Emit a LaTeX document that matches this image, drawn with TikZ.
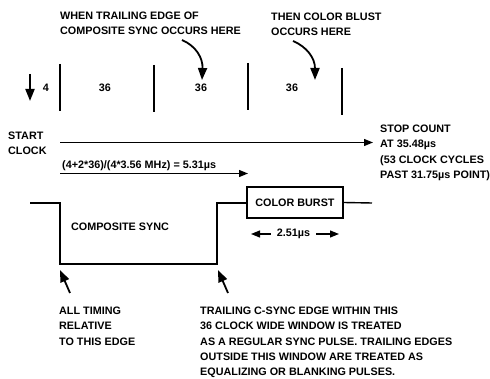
\documentclass[tikz,border=0pt]{standalone}
\usepackage{fontspec}
\setmainfont{Liberation Sans}
\usetikzlibrary{arrows.meta}

\begin{document}
\begin{tikzpicture}[
   x=1pt, y=-1pt,
   txt/.style={anchor=north west, align=left, inner sep=0pt, font=\bfseries\fontsize{10.8}{15.2}\selectfont},
   num/.style={inner sep=0pt, font=\bfseries\fontsize{10.8}{12}\selectfont},
   bar/.style={line width=1.7pt},
   wave/.style={line width=1.4pt},
   ar/.style={-{Triangle[length=9pt,width=7pt]}, line width=1.2pt},
   bigar/.style={-{Triangle[length=12pt,width=9pt]}, line width=1.8pt}
]
\useasboundingbox (0,0) rectangle (490,379);

% notes on top
\node[txt] (when) at (60,12) {WHEN TRAILING EDGE OF\\COMPOSITE SYNC OCCURS HERE};
\node[txt] (then) at (271,13) {THEN COLOR BLUST\\OCCURS HERE};
\coordinate (w0) at (182,40); \coordinate (w1) at (202,80);
\coordinate (t0) at (293,41); \coordinate (t1) at (315,80);
\draw[bigar] (w0) .. controls (196,46) and (203,58) .. (w1);
\draw[bigar] (t0) .. controls (307,47) and (315,58) .. (t1);

% clock windows
\coordinate (d0) at (30,74); \coordinate (d1) at (30,101);
\draw[bigar] (d0) -- (d1);
\node[num] (n4) at (46,88) {4};
\foreach \x/\a/\b in {60/64/111, 154/65/112, 248/63/110, 342/68/115}
  \draw[bar] (\x,\a) -- (\x,\b);
\node[num] (n1) at (105,88) {36};
\node[num] (n2) at (201,88) {36};
\node[num] (n3) at (292,88) {36};

% counts
\node[txt] (start) at (8,132) {START\\CLOCK};
\node[txt] (stop) at (380,125) {STOP COUNT\\AT 35.48µs\\(53 CLOCK CYCLES\\PAST 31.75µs POINT)};
\coordinate (s0) at (60,142.5); \coordinate (s1) at (373,142.5);
\draw[ar] (s0) -- (s1);
\node[txt] (calc) at (62,160) {(4+2*36)/(4*3.56 MHz) = 5.31µs};
\coordinate (c0) at (60,173.5); \coordinate (c1) at (248,173.5);
\draw[ar] (c0) -- (c1);

% waveform
\draw[wave] (30,203) -- (60,203) -- (60,264) -- (217,264) -- (217,203) -- (247,203);
\node[draw, wave, minimum width=96pt, minimum height=31pt, inner sep=0pt,
      font=\bfseries\fontsize{10.8}{12}\selectfont] (burst) at (295,202.5) {COLOR BURST};
\draw[wave] (burst.east) -- (372,203);
\node[num] (sync) at (120,227) {COMPOSITE SYNC};
\node[num] (dur) at (293.5,234) {2.51µs};
\coordinate (b0) at (251,234); \coordinate (b1) at (339,234);
\draw[ar] (dur.west) ++(-6,0) coordinate (bl) (bl) -- (b0);
\draw[ar] (dur.east) ++(6,0) coordinate (br) (br) -- (b1);

% notes on bottom
\coordinate (e0) at (70,293); \coordinate (e1) at (60,270);
\coordinate (f0) at (228,293); \coordinate (f1) at (218,270);
\draw[bigar] (e0) -- (e1);
\draw[bigar] (f0) -- (f1);
\node[txt] (rel) at (59,307) {ALL TIMING\\RELATIVE\\TO THIS EDGE};
\node[txt] (win) at (200,307) {TRAILING C-SYNC EDGE WITHIN THIS\\36 CLOCK WIDE WINDOW IS TREATED\\AS A REGULAR SYNC PULSE. TRAILING EDGES\\OUTSIDE THIS WINDOW ARE TREATED AS\\EQUALIZING OR BLANKING PULSES.};
\end{tikzpicture}
\end{document}
